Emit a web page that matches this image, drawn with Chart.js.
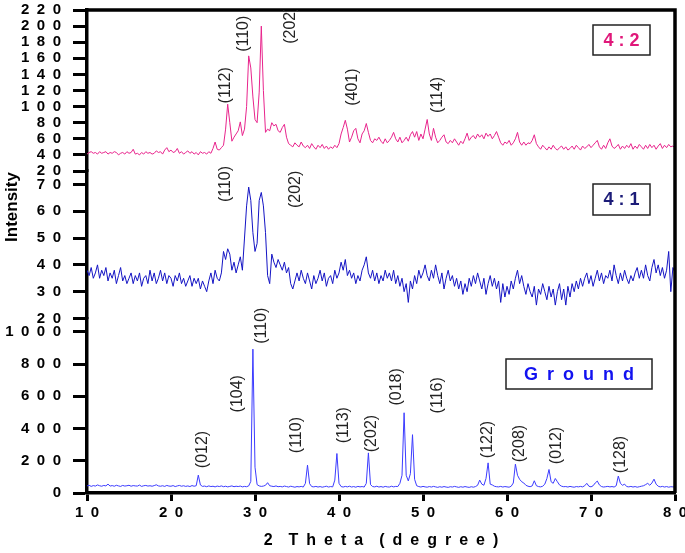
<!DOCTYPE html>
<html>
<head>
<meta charset="utf-8">
<script src="https://cdn.jsdelivr.net/npm/chart.js@4.4.1/dist/chart.umd.min.js"></script>
<style>
  html, body { margin: 0; padding: 0; background: #fff; }
  #wrap { width: 685px; height: 553px; }
</style>
</head>
<body>
<div id="wrap"><canvas id="xrdChart" width="685" height="553"></canvas></div>
<script>
// 2-theta scan grid (degrees), 0.25 step
const scanStart = 10;
const scanStep = 0.25;
const scanEnd = 80;

// Intensity of the 4:2 sample (top panel), one row per degree
const ratio42 = [
  41, 43, 44, 42,  43, 41, 44, 42,  43, 44, 41, 43,  42, 44, 43, 40,  42, 43, 41, 44, // 10-14
  42, 43, 47, 41,  42, 40, 43, 41,  44, 42, 43, 41,  42, 45, 43, 44,  41, 46, 49, 44, // 15-19
  46, 43, 44, 48,  42, 44, 41, 43,  45, 42, 44, 41,  43, 40, 44, 42,  43, 41, 44, 42, // 20-24
  48, 56, 47, 46,  49, 52, 72, 103, 80, 57, 62, 66,  70, 81, 64, 72,  100, 163, 148, 112, // 25-29
  84, 80, 118, 200, 120, 68, 72, 70, 80, 76, 78, 70,  68, 74, 78, 62,  54, 52, 50, 55, // 30-34
  52, 50, 56, 51,  49, 52, 48, 54,  50, 47, 52, 49,  53, 48, 51, 47,  50, 48, 52, 49, // 35-39
  54, 66, 74, 83,  72, 56, 62, 70,  73, 60, 55, 66,  70, 79, 68, 58,  55, 60, 58, 62, // 40-44
  57, 54, 60, 55,  58, 62, 68, 60,  56, 62, 55, 58,  62, 57, 65, 69,  62, 69, 58, 66, // 45-49
  60, 72, 84, 66,  58, 73, 62, 55,  58, 62, 65, 56,  54, 58, 55, 60,  56, 52, 57, 54, // 50-54
  60, 67, 58, 62,  64, 60, 66, 62,  65, 60, 67, 63,  66, 60, 64, 69,  62, 55, 52, 56, // 55-59
  54, 58, 52, 55,  60, 68, 56, 52,  56, 52, 55, 54,  58, 65, 54, 50,  47, 52, 49, 46, // 60-64
  50, 47, 52, 48,  46, 49, 51, 47,  50, 46, 48, 51,  47, 52, 49, 46,  51, 48, 50, 53, // 65-69
  49, 52, 55, 58,  50, 47, 52, 48,  55, 60, 51, 48,  50, 53, 47, 51,  48, 52, 49, 54, // 70-74
  47, 51, 48, 53,  50, 47, 52, 48,  53, 49, 52, 47,  51, 54, 48, 52,  49, 53, 50, 51, // 75-79
  49
];

// Intensity of the 4:1 sample (middle panel)
const ratio41 = [
  38, 36, 39, 35,  37, 40, 35, 38,  36, 39, 34, 37,  35, 38, 33, 36,  39, 34, 36, 33, // 10-14
  35, 37, 33, 36,  34, 37, 32, 35,  36, 33, 38, 34,  37, 33, 35, 38,  34, 37, 33, 36, // 15-19
  35, 32, 36, 34,  37, 33, 35, 32,  34, 36, 32, 35,  33, 35, 31, 34,  32, 30, 34, 37, // 20-24
  33, 38, 35, 34,  37, 45, 42, 46,  44, 38, 41, 37,  40, 43, 38, 50,  62, 69, 64, 52, // 25-29
  45, 48, 64, 67,  62, 52, 36, 33,  44, 41, 39, 42,  40, 38, 41, 37,  39, 33, 31, 34, // 30-34
  37, 34, 38, 35,  33, 37, 34, 31,  36, 33, 35, 38,  34, 37, 32, 35,  36, 33, 38, 35, // 35-39
  37, 41, 38, 42,  36, 38, 35, 37,  33, 36, 34, 38,  40, 43, 37, 35,  38, 34, 37, 33, // 40-44
  36, 34, 38, 35,  37, 34, 38, 33,  36, 32, 35, 30,  33, 26, 34, 31,  36, 33, 38, 35, // 45-49
  37, 40, 36, 34,  38, 35, 40, 36,  33, 37, 31, 35,  38, 34, 36, 32,  35, 31, 34, 29, // 50-54
  33, 30, 35, 32,  36, 33, 37, 34,  31, 35, 29, 33,  36, 32, 35, 31,  34, 26, 33, 28, // 55-59
  32, 29, 34, 31,  35, 38, 33, 36,  32, 29, 33, 30,  28, 32, 25, 31,  29, 33, 30, 27, // 60-64
  32, 28, 31, 25,  30, 33, 27, 31,  25, 32, 28, 33,  30, 34, 31, 35,  32, 35, 37, 33, // 65-69
  36, 32, 35, 38,  34, 37, 33, 36,  35, 38, 34, 40,  36, 33, 37, 34,  38, 35, 33, 36, // 70-74
  34, 37, 39, 35,  38, 35, 40, 36,  34, 39, 42, 37,  40, 36, 39, 35,  38, 45, 30, 39, // 75-79
  37
];

// Intensity of the ground sample (bottom panel)
const ground = [
  44, 48, 41, 46,  43, 50, 45, 42,  47, 44, 55, 43,  46, 42, 48, 44,  41, 47, 43, 45, // 10-14
  48, 42, 46, 44,  43, 49, 41, 45,  47, 43, 45, 42,  46, 51, 44, 42,  45, 41, 47, 43, // 15-19
  42, 46, 40, 44,  47, 42, 45, 41,  44, 40, 46, 42,  45, 111, 50, 41, 43, 39, 44, 40, // 20-24
  42, 38, 43, 40,  44, 39, 42, 38,  41, 44, 39, 42,  40, 43, 38, 41,  39, 44, 72, 893, // 25-29
  160, 52, 44, 41, 43, 48, 64, 45,  42, 40, 44, 39,  41, 38, 43, 40,  37, 42, 39, 36, // 30-34
  40, 38, 41, 37,  60, 173, 58, 40, 38, 41, 37, 40,  36, 39, 42, 37,  40, 38, 80, 245, // 35-39
  60, 40, 37, 41,  38, 42, 37, 40,  36, 41, 38, 40,  37, 60, 249, 52, 40, 38, 42, 37, // 40-44
  40, 36, 41, 38,  37, 42, 38, 41,  40, 60, 110, 498, 110, 75, 120, 362, 85, 45, 40, 37, // 45-49
  41, 38, 36, 40,  37, 41, 38, 35,  39, 36, 40, 37,  35, 39, 37, 41,  38, 35, 39, 36, // 50-54
  40, 37, 35, 39,  36, 40, 48, 80,  55, 48, 90, 187, 55, 50, 42, 39,  38, 41, 37, 40, // 55-59
  38, 36, 42, 62,  179, 110, 85, 70, 62, 48, 42, 39, 44, 76, 45, 40,  38, 42, 55, 90, // 60-64
  146, 70, 60, 90, 70, 50, 42, 39,  40, 37, 41, 38,  36, 40, 38, 41,  38, 45, 60, 42, // 65-69
  38, 45, 62, 74,  50, 40, 37, 39,  41, 38, 40, 37,  45, 105, 60, 48, 55, 40, 38, 41, // 70-74
  37, 40, 36, 39,  42, 45, 52, 60,  48, 62, 86, 55,  42, 38, 41, 37,  40, 36, 39, 38, // 75-79
  37
];

// Miller index annotations: text, 2-theta, intensity at the foot of the label
const hkl42 = ['(112)', '(110)', '(202)', '(401)', '(114)'];
const hkl42Theta = [26.5, 28.6, 34.25, 41.66, 51.7];
const hkl42Base = [104, 168, 178, 101, 92];

const hkl41 = ['(110)', '(202)'];
const hkl41Theta = [26.5, 34.85];
const hkl41Base = [63.4, 61.2];

const hklGround = ['(012)', '(104)', '(110)', '(110)', '(113)', '(202)', '(018)', '(116)', '(122)', '(208)', '(012)', '(128)'];
const hklGroundTheta = [23.74, 27.9, 30.8, 35.0, 40.6, 43.9, 46.9, 51.7, 57.7, 61.5, 65.9, 73.55];
const hklGroundBase = [154, 500, 926, 247, 309, 253, 543, 494, 216, 191, 179, 123];

// Panel tick ranges
const ticks42 = { min: 20, max: 220, step: 20 };
const ticks41 = { min: 20, max: 75, step: 10 };
const ticksGround = { min: 0, max: 1083, step: 200 };

const twoTheta = [];
for (let t = scanStart; t <= scanEnd + 1e-9; t += scanStep) twoTheta.push(+t.toFixed(2));

const toPoints = values => values.map((v, i) => ({ x: twoTheta[i], y: v }));
const spaced = v => String(v).split('').join('\u2002');

const tickFont = { family: "'Liberation Sans', Arial, sans-serif", size: 15, weight: 'bold' };
const AXIS_WIDTH = 87;

function panelAxis(range, weight, stackWeight) {
    return {
        type: 'linear',
        position: 'left',
        stack: 'xrd',
        stackWeight: stackWeight,
        weight: weight,
        min: range.min,
        max: range.max,
        border: { display: true, color: '#000', width: 3.5 },
        grid: { drawOnChartArea: false, drawTicks: true, tickLength: 14, tickWidth: 3, tickColor: '#000' },
        ticks: {
            stepSize: range.step,
            includeBounds: false,
            autoSkip: false,
            padding: 12,
            color: '#000',
            font: tickFont,
            callback: v => spaced(v)
        },
        afterFit: scale => {
            scale.width = AXIS_WIDTH;
            scale.paddingTop = 0;
            scale.paddingBottom = 0;
        }
    };
}

// Draws frame, peak labels, sample boxes and the y title
const overlayPlugin = {
    id: 'xrdOverlay',
    afterDraw(chart) {
        const { ctx, chartArea: a, scales } = chart;
        ctx.save();

        // top and right frame
        ctx.strokeStyle = '#000';
        ctx.lineWidth = 3.5;
        ctx.beginPath();
        ctx.moveTo(a.left, a.top);
        ctx.lineTo(a.right, a.top);
        ctx.lineTo(a.right, a.bottom);
        ctx.stroke();

        // Miller indices
        ctx.save();
        ctx.beginPath();
        ctx.rect(0, a.top, chart.width, chart.height);
        ctx.clip();
        ctx.fillStyle = '#222';
        ctx.font = "16px 'Liberation Sans', Arial, sans-serif";
        ctx.textAlign = 'left';
        ctx.textBaseline = 'middle';
        const drawSet = (texts, thetas, bases, yScale) => {
            texts.forEach((txt, i) => {
                const px = scales.x.getPixelForValue(thetas[i]);
                const py = yScale.getPixelForValue(bases[i]);
                ctx.save();
                ctx.translate(px, py);
                ctx.rotate(-Math.PI / 2);
                ctx.fillText(txt, 0, 0);
                ctx.restore();
            });
        };
        drawSet(hkl42, hkl42Theta, hkl42Base, scales.yTop);
        drawSet(hkl41, hkl41Theta, hkl41Base, scales.yMid);
        drawSet(hklGround, hklGroundTheta, hklGroundBase, scales.yBot);
        ctx.restore();

        // sample name boxes
        const box = (x, y, w, h, text, color) => {
            ctx.fillStyle = '#fff';
            ctx.fillRect(x, y, w, h);
            ctx.strokeStyle = '#222';
            ctx.lineWidth = 1.5;
            ctx.strokeRect(x, y, w, h);
            ctx.fillStyle = color;
            ctx.font = "bold 18px 'Liberation Sans', Arial, sans-serif";
            ctx.textAlign = 'center';
            ctx.textBaseline = 'middle';
            ctx.fillText(text, x + w / 2, y + h / 2 + 1);
        };
        box(a.right - 82, a.top + 15, 57, 30, '4 : 2', '#e0187a');
        box(a.right - 82, a.top + 174, 57, 31, '4 : 1', '#1c1c78');
        box(a.right - 169, a.top + 349, 146, 30, 'G\u2002r\u2002o\u2002u\u2002n\u2002d', '#1212f0');

        // y title
        ctx.fillStyle = '#000';
        ctx.font = "bold 17px 'Liberation Sans', Arial, sans-serif";
        ctx.textAlign = 'center';
        ctx.textBaseline = 'middle';
        ctx.translate(12, 207);
        ctx.rotate(-Math.PI / 2);
        ctx.fillText('Intensity', 0, 0);

        ctx.restore();
    }
};

const lineStyle = { pointRadius: 0, borderWidth: 1, tension: 0, fill: false };

new Chart(document.getElementById('xrdChart').getContext('2d'), {
    type: 'line',
    data: {
        datasets: [
            { label: '4 : 2', data: toPoints(ratio42), borderColor: '#e8248c', yAxisID: 'yTop', ...lineStyle },
            { label: '4 : 1', data: toPoints(ratio41), borderColor: '#1414c4', yAxisID: 'yMid', ...lineStyle },
            { label: 'Ground', data: toPoints(ground), borderColor: '#3c3cff', yAxisID: 'yBot', ...lineStyle }
        ]
    },
    options: {
        responsive: false,
        animation: false,
        layout: { padding: { left: 0, right: 10, top: 10, bottom: 0 } },
        plugins: {
            legend: { display: false },
            tooltip: { enabled: false }
        },
        scales: {
            x: {
                type: 'linear',
                position: 'bottom',
                min: 10,
                max: 80,
                border: { display: true, color: '#000', width: 3.5 },
                grid: { drawOnChartArea: false, drawTicks: true, tickLength: 8, tickWidth: 3, tickColor: '#000' },
                ticks: {
                    stepSize: 10,
                    padding: 3,
                    maxRotation: 0,
                    autoSkip: false,
                    color: '#000',
                    font: tickFont,
                    callback: v => spaced(v)
                },
                title: {
                    display: true,
                    text: '2\u2002\u2002T\u2002h\u2002e\u2002t\u2002a\u2002\u2002(\u2002d\u2002e\u2002g\u2002r\u2002e\u2002e\u2002)',
                    color: '#000',
                    font: { family: "'Liberation Sans', Arial, sans-serif", size: 16, weight: 'bold' },
                    padding: { top: 8, bottom: 3 }
                },
                afterFit: scale => {
                    scale.height = 60;
                    scale.paddingLeft = 0;
                    scale.paddingRight = 0;
                }
            },
            yTop: panelAxis(ticks42, 3, 161),
            yMid: panelAxis(ticks41, 2, 147.5),
            yBot: panelAxis(ticksGround, 1, 174.5)
        }
    },
    plugins: [overlayPlugin]
});
</script>
</body>
</html>
